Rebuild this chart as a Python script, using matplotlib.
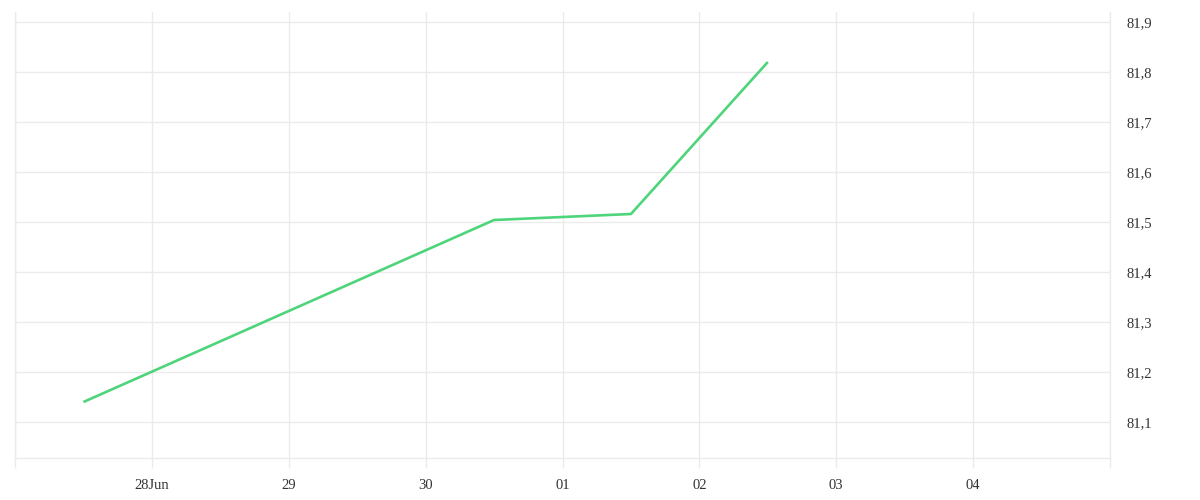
import datetime
import matplotlib
matplotlib.use('Agg')
import matplotlib.pyplot as plt
import matplotlib.dates as mdates
from matplotlib.ticker import FuncFormatter, FixedLocator

# data
dates = [datetime.datetime(2019, 6, 27, 12), datetime.datetime(2019, 6, 30, 12),
         datetime.datetime(2019, 7, 1, 12), datetime.datetime(2019, 7, 2, 12)]
values = [81.14, 81.504, 81.516, 81.82]

tick_dates = [datetime.datetime(2019, 6, 27) + datetime.timedelta(days=i) for i in range(9)]
tick_labels = ['', '28Jun', '29', '30', '01', '02', '03', '04', '']
y_ticks = [81.1, 81.2, 81.3, 81.4, 81.5, 81.6, 81.7, 81.8, 81.9]

grid_c = '#ebebeb'
text_c = '#333333'

fig = plt.figure(figsize=(12, 5), dpi=100)
ax = fig.add_axes([15 / 1200, 42 / 500, 1095 / 1200, 446 / 500])

ax.plot(dates, values, color='#4ed47a', lw=1.9, solid_capstyle='butt')

ax.set_xlim(tick_dates[0], tick_dates[-1])
ax.set_ylim(81.028, 81.92)

ax.xaxis.set_major_locator(FixedLocator(mdates.date2num(tick_dates)))
ax.set_xticklabels(tick_labels)
ax.set_yticks(y_ticks)
ax.yaxis.set_major_formatter(FuncFormatter(lambda v, p: f'{v:.1f}'.replace('.', ',')))
ax.yaxis.tick_right()

ax.grid(True, color=grid_c, lw=1)
ax.set_axisbelow(True)
ax.spines['top'].set_visible(False)
for s in ['left', 'right', 'bottom']:
    ax.spines[s].set_color(grid_c)
    ax.spines[s].set_linewidth(1)

ax.tick_params(axis='x', length=7.2, color=grid_c, width=1, pad=8,
               labelsize=10.5, labelcolor=text_c)
ax.tick_params(axis='y', length=0, pad=12, labelsize=10.5, labelcolor=text_c)
for lab in ax.get_xticklabels() + ax.get_yticklabels():
    lab.set_family(['Liberation Serif', 'DejaVu Serif'])

fig.savefig('out.png', dpi=100)
